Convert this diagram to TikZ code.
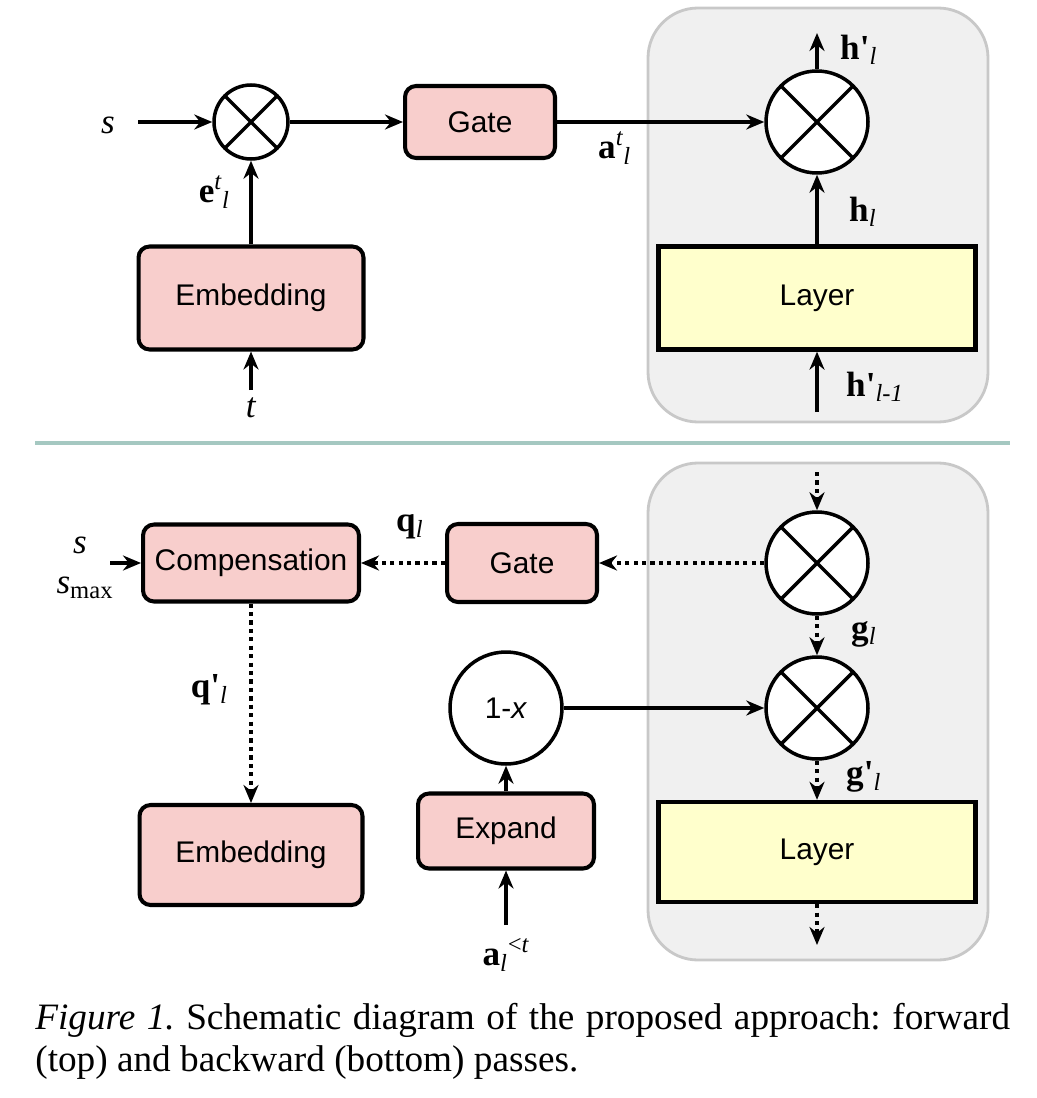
\documentclass[tikz,border=0pt]{standalone}
\usepackage{fontspec}
\setmainfont{Liberation Serif}
\setsansfont{Liberation Sans}
\usepackage{tikz}
\usetikzlibrary{arrows.meta}
\usetikzlibrary{positioning}

\definecolor{boxpink}{HTML}{F8CECC}
\definecolor{layeryellow}{HTML}{FFFFCC}
\definecolor{panelgray}{HTML}{F0F0F0}
\definecolor{panelline}{HTML}{C8C8C8}
\definecolor{sepline}{HTML}{A5C8C1}

\newcommand{\prm}{\textquotesingle}

\tikzset{
  block/.style={draw, line width=2.3pt, rounded corners=0.22cm, fill=boxpink,
    font=\sffamily\fontsize{17}{20}\selectfont},
  layerbox/.style={draw, line width=2.5pt, fill=layeryellow, minimum width=6.34cm,
    font=\sffamily\fontsize{17}{20}\selectfont},
  mult/.style={circle, draw, line width=2pt, fill=white, minimum size=2.04cm,
    path picture={\draw[line width=2pt]
      (path picture bounding box.north west) -- (path picture bounding box.south east)
      (path picture bounding box.north east) -- (path picture bounding box.south west);}},
  flow/.style={-{Stealth[length=0.36cm,width=0.3cm]}, line width=2pt},
  back/.style={flow, dash pattern=on 2.4pt off 2.4pt},
  lbl/.style={font=\fontsize{20}{23}\selectfont},
  panel/.style={draw=panelline, line width=1.6pt, fill=panelgray, rounded corners=1cm},
}

\begin{document}
\begin{tikzpicture}[x=0.02cm, y=-0.02cm]
  \useasboundingbox (0,0) rectangle (1036,1098);

  % forward pass
  \draw[panel] (648,8) rectangle (988,422);
  \node[mult, minimum size=1.48cm] (fmul) at (251,122) {};
  \node[block, minimum width=3cm, minimum height=1.44cm] (fgate) at (480,122) {Gate};
  \node[block, minimum width=4.5cm, minimum height=2.06cm] (femb) at (251,298) {Embedding};
  \node[mult] (fout) at (817,122) {};
  \node[layerbox, minimum height=2.06cm] (flayer) at (817,298) {Layer};
  \coordinate (fs) at (138,122);
  \coordinate (ft) at (251,390);
  \coordinate (fup) at (817,33);
  \coordinate (fdown) at (817,412);

  \draw[flow] (fs) -- (fmul);
  \draw[flow] (fmul) -- (fgate);
  \draw[flow] (femb) -- (fmul);
  \draw[flow] (ft) -- (femb);
  \draw[flow] (fgate) -- (fout);
  \draw[flow] (flayer) -- (fout);
  \draw[flow] (fout) -- (fup);
  \draw[flow] (fdown) -- (flayer);

  \node[lbl] at (108,125) {\textit{s}};
  \node[lbl] at (251,408) {\textit{t}};
  \node[lbl, anchor=east] at (236,192) {\textbf{e}\textsuperscript{\itshape t}\textsubscript{\itshape l}};
  \node[lbl, anchor=west] at (592,148) {\textbf{a}\textsuperscript{\itshape t}\textsubscript{\itshape l}};
  \node[lbl, anchor=west] at (834,50) {\textbf{h\prm}\textsubscript{\itshape l}};
  \node[lbl, anchor=west] at (843,212) {\textbf{h}\textsubscript{\itshape l}};
  \node[lbl, anchor=west] at (840,387) {\textbf{h\prm}\textsubscript{\itshape l-1}};

  \draw[sepline, line width=0.08cm] (35,443) -- (1010,443);

  % backward pass
  \draw[panel] (648,463) rectangle (988,960);
  \node[block, minimum width=4.32cm, minimum height=1.54cm] (bcomp) at (251,563) {Compensation};
  \node[block, minimum width=3cm, minimum height=1.56cm] (bgate) at (522,563) {Gate};
  \node[mult] (bmul) at (817,563) {};
  \node[mult] (bmask) at (817,708) {};
  \node[circle, draw, line width=2pt, fill=white, minimum size=2.24cm,
    font=\sffamily\fontsize{17}{20}\selectfont] (binv) at (506,708) {1-\textit{x}};
  \node[block, minimum width=3.52cm, minimum height=1.5cm] (bexp) at (506,831) {Expand};
  \node[block, minimum width=4.46cm, minimum height=2cm] (bemb) at (251,855) {Embedding};
  \node[layerbox, minimum height=2cm] (blayer) at (817,852) {Layer};
  \coordinate (bs) at (110,563);
  \coordinate (btop) at (817,472);
  \coordinate (bbot) at (817,945);
  \coordinate (ba) at (506,925);

  \draw[back] (btop) -- (bmul);
  \draw[back] (bmul) -- (bgate);
  \draw[back] (bgate) -- (bcomp);
  \draw[flow] (bs) -- (bcomp);
  \draw[back] (bcomp) -- (bemb);
  \draw[back] (bmul) -- (bmask);
  \draw[flow] (binv) -- (bmask);
  \draw[back] (bmask) -- (blayer);
  \draw[back] (blayer) -- (bbot);
  \draw[flow] (ba) -- (bexp);
  \draw[flow] (bexp) -- (binv);

  \node[lbl] at (80,545) {\textit{s}};
  \node[lbl] at (85,588) {\textit{s}\textsubscript{max}};
  \node[lbl, anchor=west] at (390,527) {\textbf{q}\textsubscript{\itshape l}};
  \node[lbl, anchor=east] at (234,690) {\textbf{q\prm}\textsubscript{\itshape l}};
  \node[lbl, anchor=west] at (845,634) {\textbf{g}\textsubscript{\itshape l}};
  \node[lbl, anchor=west] at (840,777) {\textbf{g\prm}\textsubscript{\itshape l}};
  \node[lbl] at (506,955) {\textbf{a}\textsubscript{\itshape l}\textsuperscript{<\itshape t}};

  \node[anchor=north west, text width=19.5cm, align=justify, inner sep=0pt,
    font=\fontsize{21.2}{24}\selectfont\frenchspacing] (caption) at (35,1003)
    {\textit{Figure 1.} Schematic diagram of the proposed approach: forward\linebreak
     (top) and backward (bottom) passes.};
\end{tikzpicture}
\end{document}
